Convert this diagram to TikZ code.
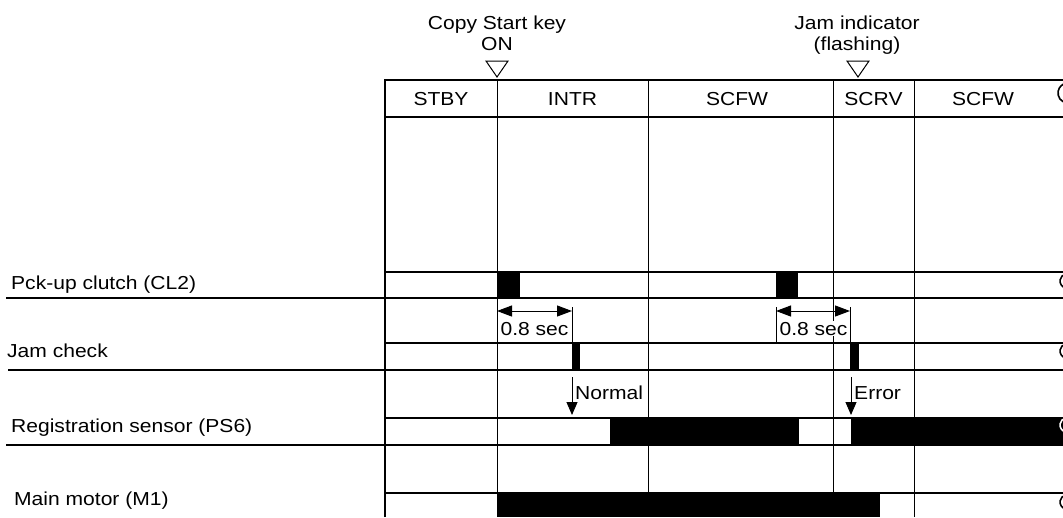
\documentclass[tikz,border=0pt]{standalone}
\usepackage{fontspec}
\setmainfont{Liberation Sans}[FakeStretch=1.12]
\usetikzlibrary{arrows.meta}
\begin{document}
\begin{tikzpicture}[x=1pt,y=-1pt,
  font=\fontsize{18.8}{22}\selectfont,
  thickline/.style={line width=2pt},
  thinline/.style={line width=1pt},
  lbl/.style={inner sep=0pt, anchor=base},
  lblw/.style={inner sep=0pt, anchor=base west},
  pulse/.style={fill=black, draw=none},
  tipA/.style={-{Triangle[length=13pt,width=11pt]}},
  dimarrow/.style={line width=1pt, {Triangle[length=15pt,width=11pt]}-{Triangle[length=15pt,width=11pt]}},
  brk/.style={line width=1.6pt},
]
\useasboundingbox (0,0) rectangle (1063,517);
\fill[white] (0,0) rectangle (1063,517);

% vertical grid lines
\foreach \x in {497,648,833,914} \draw[thinline] (\x,80) -- (\x,517);

% pulses
\fill[pulse] (497,272) rectangle (520,298);
\fill[pulse] (776,272) rectangle (798,298);
\fill[pulse] (572,343) rectangle (580,370);
\fill[pulse] (850,343) rectangle (859,370);
\fill[pulse] (610,418) rectangle (799,445);
\fill[pulse] (851,418) rectangle (1063,445);
\fill[pulse] (498,493) rectangle (880,517);

% frame and row lines
\draw[thickline] (385,517) -- (385,80) -- (1063,80);
\draw[thickline] (385,117) -- (1063,117);
\foreach \y in {272,343,418,493} \draw[thickline] (385,\y) -- (1063,\y);
\draw[thickline] (6,298) -- (1063,298);
\draw[thickline] (8,370) -- (1063,370);
\draw[thickline] (6,445) -- (1063,445);

% break marks at right edge
\draw[brk] ([shift={(100:10)}]1068,93) arc[start angle=100,end angle=260,radius=10];
\foreach \yc in {281,351,502}
  \draw[brk] ([shift={(100:7)}]1067,\yc) arc[start angle=100,end angle=260,radius=7];
\draw[brk,white] ([shift={(100:7)}]1067,425) arc[start angle=100,end angle=260,radius=7];

% event markers
\draw[thinline] (486,61) -- (508,61) -- (497,77) -- cycle;
\draw[thinline] (847,61) -- (869,61) -- (858,77) -- cycle;
\node[lbl] (copy) at (497,29) {Copy Start key};
\node[lbl] (on) at (497,50) {ON};
\node[lbl] (jamind) at (857,29) {Jam indicator};
\node[lbl] (flash) at (857,50) {(flashing)};

% header labels
\node[lbl] (stby) at (441,105) {STBY};
\node[lbl] (intr) at (572.5,105) {INTR};
\node[lbl] (scfw1) at (737,105) {SCFW};
\node[lbl] (scrv) at (873.5,105) {SCRV};
\node[lbl] (scfw2) at (983,105) {SCFW};

% row labels
\node[lblw] (cl2) at (11,289) {Pck-up clutch (CL2)};
\node[lblw] (jam) at (7,357) {Jam check};
\node[lblw] (reg) at (11,432) {Registration sensor (PS6)};
\node[lblw] (mot) at (14,505) {Main motor (M1)};

% 0.8 sec dimensions
\draw[thinline] (572,307) -- (572,343);
\draw[thinline] (776,307) -- (776,343);
\draw[thinline] (850,307) -- (850,343);
\node[lbl, fill=white, inner xsep=1pt, inner ysep=1pt] (d1) at (534.5,335) {0.8 sec};
\node[lbl, fill=white, inner xsep=1pt, inner ysep=1pt] (d2) at (813.5,335) {0.8 sec};
\coordinate (d1a) at (497,311);
\coordinate (d1b) at (572,311);
\coordinate (d2a) at (776,311);
\coordinate (d2b) at (850,311);
\draw[dimarrow] (d1a) -- (d1b);
\draw[dimarrow] (d2a) -- (d2b);

% Normal / Error arrows
\coordinate (n0) at (572,377);
\coordinate (n1) at (572,415);
\coordinate (e0) at (851,377);
\coordinate (e1) at (851,415);
\draw[thinline, tipA] (n0) -- (n1);
\draw[thinline, tipA] (e0) -- (e1);
\node[lblw] (normal) at (575,399) {Normal};
\node[lblw] (error) at (854,399) {Error};
\end{tikzpicture}
\end{document}
